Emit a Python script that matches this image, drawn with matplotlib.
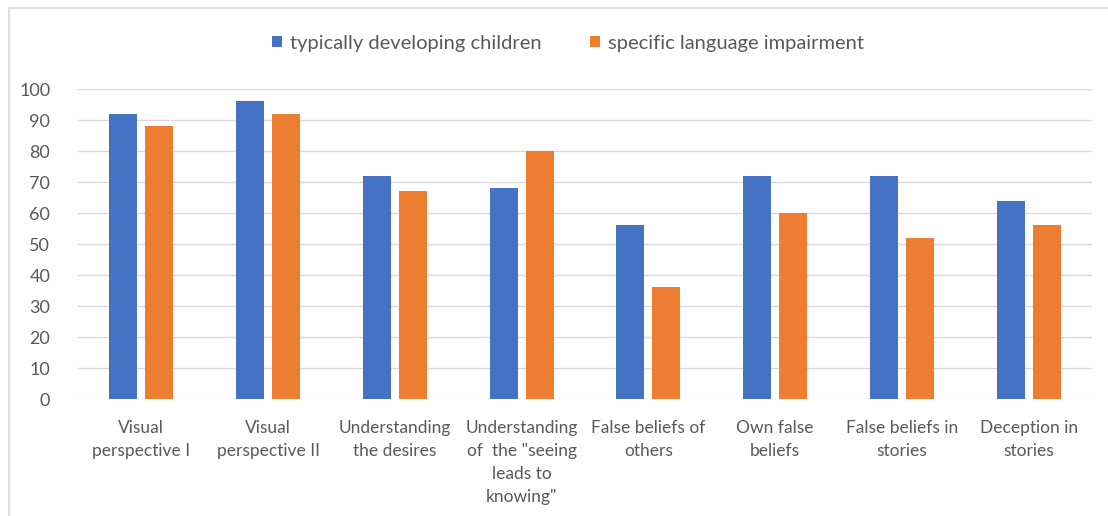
import numpy as np
import matplotlib.pyplot as plt
from matplotlib.patches import Rectangle

# data
categories = ["Visual\nperspective I", "Visual\nperspective II", "Understanding\nthe desires",
              "Understanding\nof  the \"seeing\nleads to\nknowing\"", "False beliefs of\nothers",
              "Own false\nbeliefs", "False beliefs in\nstories", "Deception in\nstories"]
typical = [92, 96, 72, 68, 56, 72, 72, 64]
sli = [88, 92, 67, 80, 36, 60, 52, 56]
series_names = ["typically developing children", "specific language impairment"]
y_ticks = [0, 10, 20, 30, 40, 50, 60, 70, 80, 90, 100]

blue = "#4472C4"
orange = "#ED7D31"
text_col = "#595959"

plt.rcParams['font.family'] = ['Lato', 'DejaVu Sans']

fig = plt.figure(figsize=(11.08, 5.16), dpi=100)
ax = fig.add_axes([0.0704, 0.2267, 0.9152, 0.6008])

x = np.arange(len(categories))
w = 0.22
ax.bar(x - 0.142, typical, w, color=blue, label=series_names[0], zorder=3)
ax.bar(x + 0.142, sli, w, color=orange, label=series_names[1], zorder=3)

ax.set_xlim(-0.5, len(categories) - 0.5)
ax.set_ylim(0, 100)
ax.set_yticks(y_ticks)
ax.set_xticks(x)
ax.set_xticklabels(categories, fontsize=12.5, color=text_col, linespacing=1.55)
ax.tick_params(axis='x', length=0, pad=15)
ax.tick_params(axis='y', length=0, pad=20, labelsize=13, labelcolor=text_col)
ax.grid(axis='y', color='#D9D9D9', linewidth=1, zorder=0)
for s in ax.spines.values():
    s.set_visible(False)

fig.legend(loc='center', bbox_to_anchor=(568 / 1108, 1 - 43 / 516), ncol=2, frameon=False,
           fontsize=14.5, labelcolor=text_col, handlelength=0.5, handleheight=0.5,
           handletextpad=0.4, columnspacing=2.4)

# outer chart frame (cropped on right and bottom)
fig.patches.append(Rectangle((9 / 1108, -0.1), 1.2, 1 - 8 / 516 + 0.1, transform=fig.transFigure,
                             fill=False, edgecolor='#D9D9D9', linewidth=1.2))

fig.savefig('out.png', dpi=100)
